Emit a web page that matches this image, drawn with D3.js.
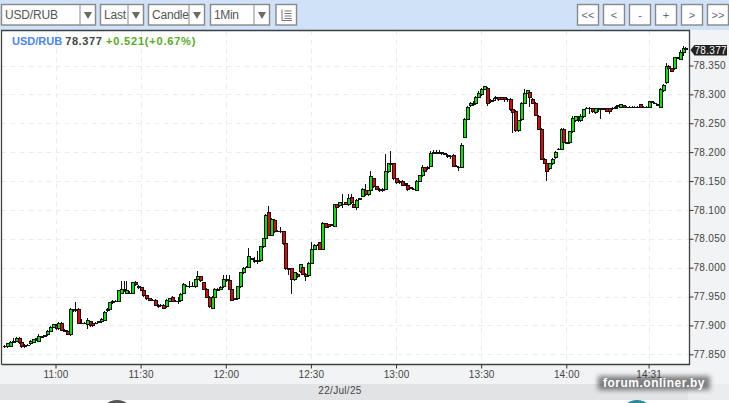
<!DOCTYPE html>
<html><head><meta charset="utf-8">
<script src="https://cdn.jsdelivr.net/npm/d3@7/dist/d3.min.js"></script>
<style>html,body{margin:0;padding:0;background:#fff;overflow:hidden}svg{display:block}text{font-family:"Liberation Sans",Arial,sans-serif}</style>
</head><body><svg id="c" width="729" height="403"></svg>
<script>
const opens=[77.863,77.863,77.864,77.871,77.873,77.878,77.870,77.863,77.866,77.868,
77.871,77.875,77.873,77.880,77.882,77.884,77.890,77.897,77.899,77.894,
77.904,77.892,77.890,77.885,77.927,77.927,77.928,77.904,77.904,77.901,
77.906,77.904,77.904,77.906,77.906,77.909,77.925,77.928,77.939,77.942,
77.942,77.956,77.963,77.956,77.956,77.956,77.975,77.968,77.965,77.961,
77.951,77.946,77.944,77.944,77.932,77.935,77.935,77.932,77.942,77.949,
77.942,77.942,77.944,77.956,77.968,77.968,77.968,77.967,77.979,77.984,
77.974,77.963,77.949,77.930,77.949,77.963,77.963,77.967,77.979,77.977,
77.963,77.946,77.946,77.967,77.991,78.001,78.001,78.015,78.010,78.012,
78.012,78.036,78.050,78.095,78.056,78.082,78.063,78.063,78.062,78.041,
77.998,77.998,77.979,77.989,77.993,78.001,77.989,77.986,78.008,78.032,
78.039,78.043,78.032,78.076,78.074,78.074,78.072,78.109,78.107,78.110,
78.112,78.109,78.121,78.110,78.105,78.119,78.124,78.134,78.126,78.133,
78.154,78.140,78.136,78.133,78.136,78.166,78.178,78.180,78.154,78.147,
78.150,78.145,78.143,78.138,78.136,78.134,78.150,78.159,78.173,78.171,
78.176,78.199,78.199,78.199,78.199,78.197,78.195,78.193,78.195,78.176,
78.174,78.174,78.226,78.257,78.280,78.282,78.285,78.295,78.299,78.309,
78.311,78.287,78.290,78.294,78.294,78.294,78.294,78.292,78.292,78.273,
78.271,78.237,78.256,78.285,78.302,78.304,78.292,78.285,78.261,78.240,
78.188,78.180,78.171,78.180,78.190,78.205,78.205,78.240,78.216,78.216,
78.235,78.254,78.259,78.254,78.261,78.276,78.276,78.275,78.268,78.275,
78.275,78.275,78.275,78.275,78.276,78.276,78.280,78.278,78.280,78.278,
78.278,78.278,78.278,78.278,78.282,78.278,78.278,78.278,78.287,78.285,
78.282,78.278,78.306,78.320,78.349,78.344,78.344,78.363,78.361,78.373,78.379];
const closes=[77.864,77.868,77.871,77.873,77.878,77.870,77.864,77.866,77.866,77.873,
77.875,77.877,77.880,77.880,77.882,77.890,77.897,77.901,77.894,77.904,
77.892,77.890,77.885,77.928,77.925,77.925,77.904,77.904,77.904,77.908,
77.899,77.899,77.904,77.906,77.911,77.923,77.928,77.939,77.942,77.942,
77.960,77.963,77.960,77.960,77.956,77.974,77.970,77.965,77.961,77.951,
77.946,77.944,77.944,77.935,77.935,77.934,77.930,77.944,77.946,77.942,
77.942,77.942,77.954,77.970,77.968,77.968,77.968,77.979,77.984,77.977,
77.963,77.949,77.932,77.949,77.963,77.961,77.965,77.980,77.977,77.963,
77.944,77.946,77.967,77.991,77.999,78.001,78.019,78.015,78.012,78.012,
78.036,78.050,78.091,78.056,78.084,78.062,78.063,78.062,78.041,77.998,
77.998,77.979,77.991,77.984,78.005,77.989,77.984,78.008,78.032,78.039,
78.039,78.032,78.077,78.070,78.072,78.074,78.109,78.105,78.112,78.110,
78.110,78.119,78.112,78.105,78.117,78.119,78.136,78.126,78.133,78.157,
78.140,78.136,78.133,78.136,78.167,78.180,78.181,78.154,78.147,78.150,
78.143,78.145,78.136,78.138,78.136,78.150,78.159,78.174,78.167,78.174,
78.197,78.199,78.199,78.199,78.197,78.197,78.193,78.192,78.176,78.176,
78.173,78.212,78.257,78.278,78.285,78.285,78.295,78.302,78.309,78.313,
78.285,78.290,78.290,78.294,78.292,78.292,78.292,78.292,78.273,78.268,
78.237,78.254,78.285,78.301,78.306,78.295,78.285,78.264,78.240,78.188,
78.181,78.167,78.180,78.188,78.200,78.205,78.240,78.217,78.216,78.235,
78.259,78.261,78.259,78.261,78.273,78.276,78.275,78.270,78.275,78.275,
78.275,78.275,78.271,78.270,78.276,78.278,78.280,78.282,78.278,78.278,
78.278,78.278,78.278,78.278,78.278,78.278,78.278,78.287,78.287,78.285,
78.282,78.309,78.316,78.349,78.344,78.340,78.363,78.363,78.373,78.380,78.377];
const highs=[77.866,77.868,77.873,77.878,77.880,77.880,77.871,77.868,77.868,77.875,
77.877,77.878,77.885,77.882,77.884,77.892,77.899,77.903,77.903,77.906,
77.906,77.894,77.892,77.930,77.928,77.941,77.930,77.911,77.906,77.913,
77.908,77.906,77.906,77.908,77.913,77.925,77.930,77.941,77.944,77.944,
77.961,77.977,77.977,77.977,77.960,77.975,77.977,77.970,77.967,77.963,
77.953,77.948,77.946,77.946,77.937,77.937,77.937,77.946,77.948,77.951,
77.944,77.949,77.956,77.974,77.970,77.977,77.975,77.980,77.994,77.986,
77.975,77.965,77.951,77.951,77.965,77.965,77.968,77.987,77.987,77.987,
77.965,77.948,77.968,77.993,78.001,78.003,78.034,78.017,78.019,78.029,
78.037,78.051,78.093,78.107,78.086,78.084,78.065,78.070,78.063,78.043,
77.999,77.999,77.993,77.991,78.006,78.006,77.991,78.010,78.044,78.041,
78.041,78.044,78.079,78.077,78.076,78.076,78.110,78.110,78.112,78.128,
78.114,78.128,78.128,78.114,78.119,78.121,78.138,78.145,78.134,78.167,
78.155,78.141,78.138,78.138,78.197,78.181,78.202,78.181,78.155,78.152,
78.152,78.147,78.145,78.140,78.138,78.152,78.161,78.178,78.174,78.176,
78.202,78.204,78.204,78.204,78.200,78.199,78.197,78.195,78.197,78.178,
78.176,78.216,78.259,78.280,78.287,78.289,78.297,78.306,78.311,78.315,
78.313,78.292,78.294,78.297,78.295,78.295,78.295,78.294,78.294,78.275,
78.273,78.256,78.287,78.309,78.308,78.306,78.294,78.287,78.264,78.242,
78.190,78.181,78.181,78.190,78.202,78.207,78.242,78.242,78.217,78.237,
78.263,78.263,78.263,78.266,78.275,78.278,78.278,78.276,78.276,78.276,
78.276,78.276,78.276,78.276,78.278,78.280,78.282,78.283,78.282,78.280,
78.280,78.280,78.280,78.280,78.283,78.280,78.280,78.289,78.289,78.287,
78.283,78.311,78.318,78.354,78.351,78.346,78.365,78.365,78.377,78.384,78.382];
const lows=[77.861,77.861,77.863,77.870,77.871,77.868,77.861,77.861,77.864,77.866,
77.870,77.873,77.871,77.878,77.880,77.882,77.889,77.896,77.892,77.892,
77.890,77.889,77.884,77.882,77.923,77.923,77.903,77.903,77.903,77.894,
77.897,77.897,77.903,77.904,77.904,77.908,77.923,77.927,77.937,77.941,
77.941,77.954,77.958,77.954,77.954,77.954,77.968,77.963,77.960,77.949,
77.944,77.942,77.942,77.934,77.930,77.932,77.928,77.930,77.941,77.941,
77.941,77.937,77.942,77.954,77.967,77.965,77.967,77.965,77.977,77.975,
77.961,77.948,77.930,77.928,77.948,77.960,77.961,77.965,77.975,77.961,
77.942,77.944,77.944,77.965,77.989,77.999,77.999,78.013,78.008,78.006,
78.010,78.034,78.048,78.055,78.055,78.060,78.062,78.060,78.039,77.996,
77.987,77.954,77.977,77.982,77.991,77.987,77.977,77.984,78.006,78.031,
78.037,78.031,78.031,78.069,78.069,78.072,78.070,78.098,78.105,78.103,
78.109,78.107,78.110,78.103,78.100,78.117,78.122,78.124,78.124,78.131,
78.138,78.134,78.131,78.131,78.134,78.164,78.176,78.152,78.145,78.145,
78.141,78.141,78.133,78.136,78.134,78.133,78.148,78.157,78.166,78.169,
78.174,78.197,78.197,78.197,78.195,78.195,78.190,78.188,78.174,78.174,
78.167,78.173,78.224,78.256,78.278,78.280,78.283,78.294,78.297,78.308,
78.280,78.285,78.287,78.290,78.289,78.290,78.287,78.287,78.271,78.233,
78.235,78.235,78.254,78.283,78.301,78.278,78.283,78.263,78.238,78.186,
78.180,78.150,78.169,78.178,78.188,78.204,78.204,78.216,78.214,78.214,
78.233,78.252,78.252,78.252,78.259,78.275,78.266,78.268,78.266,78.270,
78.257,78.273,78.270,78.266,78.273,78.275,78.276,78.276,78.276,78.276,
78.276,78.276,78.276,78.276,78.276,78.276,78.276,78.276,78.285,78.283,
78.280,78.276,78.304,78.318,78.342,78.339,78.342,78.361,78.360,78.367,78.377];
const tickIndex=[18,48,78,108,138,168,198,227];
const tickLabels=["11:00","11:30","12:00","12:30","13:00","13:30","14:00","14:31"];
const priceTicks=[77.85,77.9,77.95,78,78.05,78.1,78.15,78.2,78.25,78.3,78.35];
const symbol="USD/RUB", lastPrice=78.377, change="+0.521(+0.67%)", dateLabel="22/Jul/25";
const selects=[["USD/RUB",1,96,53],["Last",100,144,22],["Candle",148,205,37],["1Min",210,270,25]];
const navButtons=["<<","<","-","+",">",">>"];

const svg=d3.select("#c");
const L=1.5,R=689.5,T=30.5,B=364.5;
const x=d3.scaleLinear().domain([18,198]).range([55.5,566.3]);
const y=d3.scaleLinear().domain([77.85,78.35]).range([354.3,65.5]);
const rect=(g,a,b,w,h,f,s,sw)=>g.append("rect").attr("x",a).attr("y",b).attr("width",w).attr("height",h).attr("fill",f).attr("stroke",s||"none").attr("stroke-width",sw||0);

rect(svg,0,0,729,403,"#fff");
rect(svg,0,0,729,30,"#cfe2f8");
rect(svg,R,30,40,354,"#f2f3f5");
rect(svg,0,B,729,20,"#f2f3f5");
rect(svg,0,384,688,16,"#e2e3e5");
rect(svg,688,384,41,16,"#ebecee");
svg.append("circle").attr("cx",117).attr("cy",417).attr("r",17).attr("fill","#555");
svg.append("circle").attr("cx",637).attr("cy",417).attr("r",17).attr("fill","#2a8a9c");

// toolbar
selects.forEach(([t,a,b,tw])=>{
  const g=svg.append("g");
  rect(g,a+.5,4.5,b-a-1,20.5,"#fff","#888",1.4);
  const sx=b-16;
  g.append("line").attr("x1",sx).attr("x2",sx).attr("y1",5).attr("y2",25).attr("stroke","#888");
  g.append("path").attr("d",`M${sx+4} 12h8l-4 7z`).attr("fill","#6e6a62");
  g.append("text").attr("x",a+4).attr("y",19).attr("font-size",12).attr("fill","#555")
   .attr("textLength",tw).attr("lengthAdjust","spacing").text(t);
});
{ const g=svg.append("g");
  rect(g,276,4.5,20.5,20.5,"#fff","#888",1.4);
  g.append("path").attr("d","M282 9.5v11h10M284.5 11h7M284.5 13.5h7M284.5 16h7M284.5 18.5h7").attr("fill","none").attr("stroke","#777").attr("stroke-width",1);
}
navButtons.forEach((t,i)=>{
  const a=577.5+i*26;
  rect(svg,a,4.5,21,20.5,"#fff","#888",1.4);
  svg.append("text").attr("x",a+10.5).attr("y",18.5).attr("text-anchor","middle").attr("font-size",11).attr("fill","#667").text(t);
});

// grid
const grid=svg.append("g").attr("stroke","#ececec").attr("stroke-dasharray","5,4").attr("stroke-width",1);
priceTicks.forEach(p=>grid.append("line").attr("x1",L).attr("x2",R).attr("y1",Math.round(y(p))+.5).attr("y2",Math.round(y(p))+.5));
tickIndex.forEach(i=>grid.append("line").attr("x1",Math.round(x(i))+.5).attr("x2",Math.round(x(i))+.5).attr("y1",T).attr("y2",B));

// candles
const cx=i=>Math.round(x(i))+.5;
const c=svg.append("g").attr("shape-rendering","crispEdges");
c.selectAll("line").data(opens).join("line")
 .attr("x1",(d,i)=>cx(i)).attr("x2",(d,i)=>cx(i))
 .attr("y1",(d,i)=>y(highs[i])).attr("y2",(d,i)=>y(lows[i]))
 .attr("stroke","#111").attr("stroke-width",1);
c.selectAll("rect").data(opens).join("rect")
 .attr("x",(d,i)=>cx(i)-1.5).attr("width",3)
 .attr("y",(d,i)=>y(Math.max(d,closes[i])))
 .attr("height",(d,i)=>Math.max(.5,Math.abs(y(d)-y(closes[i]))))
 .attr("fill",(d,i)=>closes[i]>=d?"#00e800":"#e80000")
 .attr("stroke","#111").attr("stroke-width",1);

// frame
svg.append("path").attr("d",`M${L} ${B}V${T}H${R}V${B}H${L}`).attr("fill","none").attr("stroke","#3c4043").attr("stroke-width",1.3);

// axes
const ay=d3.axisRight(y).tickValues(priceTicks).tickFormat(d3.format(".3f")).tickSize(4).tickPadding(0);
const gy=svg.append("g").attr("transform",`translate(${R},0)`).call(ay);
const ax=d3.axisBottom(x).tickValues(tickIndex).tickFormat((d,i)=>tickLabels[i]).tickSize(4).tickPadding(2);
const gx=svg.append("g").attr("transform",`translate(0,${B})`).call(ax);
[gy,gx].forEach(g=>{g.select(".domain").remove();g.selectAll("line").attr("stroke","#333");
  g.selectAll("text").attr("fill","#444").attr("font-size",10).attr("font-family","Liberation Sans");});
gy.selectAll("text").attr("letter-spacing",".3px");
gx.selectAll("text").attr("letter-spacing",".15px");

// last-price tag
const ly=y(lastPrice);
svg.append("path").attr("d",`M${R+1} ${ly}l4 -5h32.5v10.5h-32.5z`).attr("fill","#222");
svg.append("text").attr("x",694.5).attr("y",ly+3.8).attr("font-size",10).attr("fill","#fff").attr("letter-spacing",".3px").text(d3.format(".3f")(lastPrice));

// header
const h=svg.append("text").attr("x",12).attr("y",45).attr("font-size",11).attr("font-weight","bold");
h.append("tspan").attr("fill","#4d86f0").text(symbol+" ");
h.append("tspan").attr("fill","#444").attr("letter-spacing",".6px").text(d3.format(".3f")(lastPrice)+" ");
h.append("tspan").attr("fill","#5aaa28").attr("letter-spacing",".8px").text(change);

svg.append("text").attr("x",340).attr("y",394).attr("text-anchor","middle").attr("font-size",10).attr("fill","#444").attr("letter-spacing",".3px").text(dateLabel);

// watermark
const defs=svg.append("defs");
defs.append("filter").attr("id","blur").attr("x","-10%").attr("y","-30%").attr("width","120%").attr("height","160%").append("feGaussianBlur").attr("stdDeviation",2.5);
rect(svg,598,376,112,14,"#333").attr("opacity",.6).attr("filter","url(#blur)");
svg.append("text").attr("x",654).attr("y",386.5).attr("text-anchor","middle").attr("font-size",12).attr("font-weight","bold").attr("fill","#fff").attr("letter-spacing",".5px").text("forum.onliner.by");
</script></body></html>
